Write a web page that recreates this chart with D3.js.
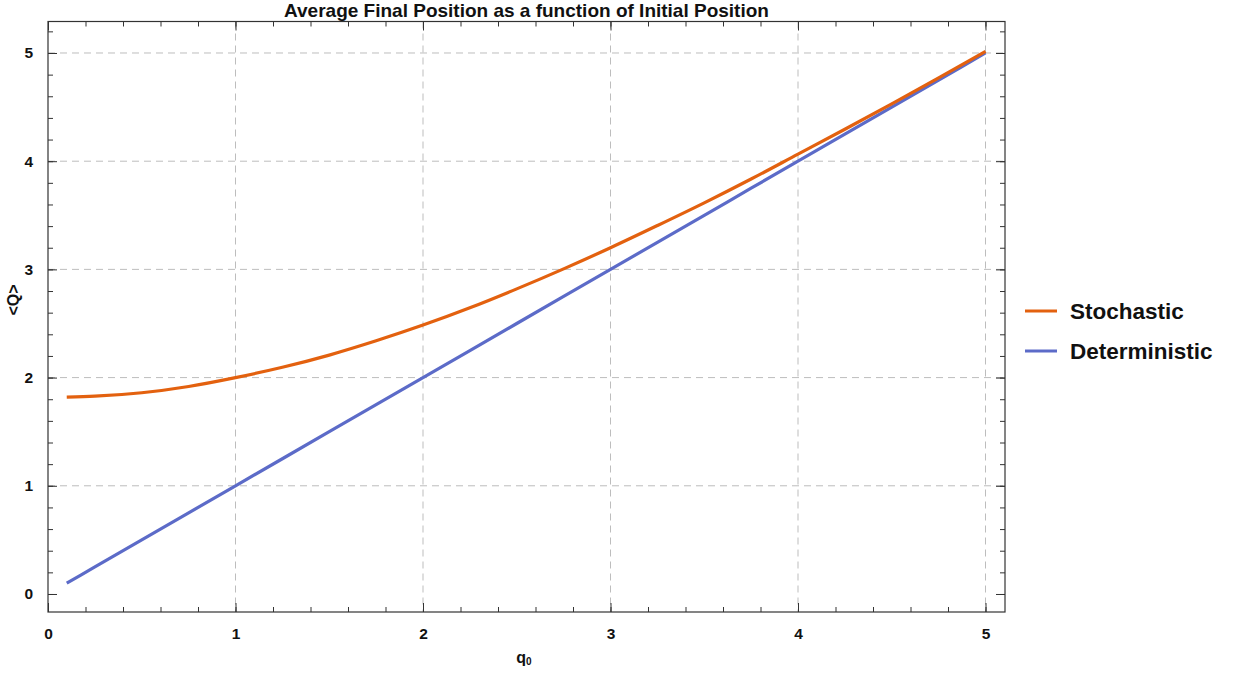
<!DOCTYPE html>
<html>
<head>
<meta charset="utf-8">
<script src="https://cdn.jsdelivr.net/npm/d3@7"></script>
<style>
  html, body { margin: 0; padding: 0; background: #fff; }
  svg { display: block; font-family: "Liberation Sans", Arial, sans-serif; }
</style>
</head>
<body>
<svg id="chart" width="1237" height="673"></svg>
<script>
// ---- data ----
const title = "Average Final Position as a function of Initial Position";
const seriesNames = ["Stochastic", "Deterministic"];
const q0Values = [0.1, 0.25, 0.5, 0.75, 1.0, 1.25, 1.5, 1.75, 2.0, 2.25, 2.5, 2.75, 3.0, 3.25, 3.5, 3.75, 4.0, 4.25, 4.5, 4.75, 5.0];
const stochasticValues = [1.82, 1.828, 1.86, 1.918, 2.0, 2.095, 2.208, 2.34, 2.485, 2.645, 2.82, 3.005, 3.2, 3.405, 3.615, 3.835, 4.065, 4.295, 4.53, 4.77, 5.015];
const deterministicValues = [0.1, 0.25, 0.5, 0.75, 1.0, 1.25, 1.5, 1.75, 2.0, 2.25, 2.5, 2.75, 3.0, 3.25, 3.5, 3.75, 4.0, 4.25, 4.5, 4.75, 5.0];
const xTickLabels = [0, 1, 2, 3, 4, 5];
const yTickLabels = [0, 1, 2, 3, 4, 5];

// ---- layout ----
const svg = d3.select("#chart");
const pL = 48, pR = 1005, pT = 21.5, pB = 612;
const x = d3.scaleLinear().domain([0, 5.104]).range([pL, pR]);
const y = d3.scaleLinear().domain([-0.1664, 5.291]).range([pB, pT]);
const colors = ["#e3610f", "#5c6bc8"];

// grid
const grid = svg.append("g");
grid.selectAll("line.gx").data(xTickLabels.filter(d => d > 0)).join("line")
  .attr("x1", d => x(d)).attr("x2", d => x(d)).attr("y1", pT).attr("y2", pB)
  .attr("stroke", "#bdbdbd").attr("stroke-width", 1).attr("stroke-dasharray", "7,5");
grid.selectAll("line.gy").data(yTickLabels.filter(d => d > 0)).join("line")
  .attr("x1", pL).attr("x2", pR).attr("y1", d => y(d)).attr("y2", d => y(d))
  .attr("stroke", "#bdbdbd").attr("stroke-width", 1).attr("stroke-dasharray", "7,5");

// axes via d3 axis generators (ticks drawn inward)
const xMinor = d3.range(0, 5.1, 0.2).map(v => +v.toFixed(1));
const yMinor = d3.range(0, 5.3, 0.2).map(v => +v.toFixed(1));
function styleAxis(g) {
  g.select(".domain").remove();
  g.selectAll(".tick line").attr("stroke", "#333");
  g.selectAll("text").attr("font-weight", "bold").attr("font-size", 15.5).attr("fill", "#111");
}
// bottom
svg.append("g").attr("transform", `translate(0,${pB})`)
  .call(d3.axisBottom(x).tickValues(xMinor).tickSize(-5).tickFormat(""))
  .call(styleAxis);
svg.append("g").attr("transform", `translate(0,${pB})`)
  .call(d3.axisBottom(x).tickValues(xTickLabels).tickSize(-9).tickPadding(16).tickFormat(d3.format("d")))
  .call(styleAxis);
// top
svg.append("g").attr("transform", `translate(0,${pT})`)
  .call(d3.axisTop(x).tickValues(xMinor).tickSize(-5).tickFormat(""))
  .call(styleAxis);
svg.append("g").attr("transform", `translate(0,${pT})`)
  .call(d3.axisTop(x).tickValues(xTickLabels).tickSize(-9).tickFormat(""))
  .call(styleAxis);
// left
svg.append("g").attr("transform", `translate(${pL},0)`)
  .call(d3.axisLeft(y).tickValues(yMinor).tickSize(-5).tickFormat(""))
  .call(styleAxis);
svg.append("g").attr("transform", `translate(${pL},0)`)
  .call(d3.axisLeft(y).tickValues(yTickLabels).tickSize(-9).tickPadding(15).tickFormat(d3.format("d")))
  .call(styleAxis);
// right
svg.append("g").attr("transform", `translate(${pR},0)`)
  .call(d3.axisRight(y).tickValues(yMinor).tickSize(-5).tickFormat(""))
  .call(styleAxis);
svg.append("g").attr("transform", `translate(${pR},0)`)
  .call(d3.axisRight(y).tickValues(yTickLabels).tickSize(-9).tickFormat(""))
  .call(styleAxis);

// frame
svg.append("rect").attr("x", pL).attr("y", pT).attr("width", pR - pL).attr("height", pB - pT)
  .attr("fill", "none").attr("stroke", "#333").attr("stroke-width", 1.2);

// lines
const line = d3.line().x(d => x(d[0])).y(d => y(d[1])).curve(d3.curveMonotoneX);
const series = [stochasticValues, deterministicValues];
// draw deterministic first, stochastic on top
[1, 0].forEach(i => {
  svg.append("path")
    .datum(q0Values.map((q, j) => [q, series[i][j]]))
    .attr("d", line)
    .attr("fill", "none")
    .attr("stroke", colors[i])
    .attr("stroke-width", 3.2)
    .attr("stroke-linecap", "butt");
});

// title
svg.append("text").attr("x", (pL + pR) / 2).attr("y", 17)
  .attr("text-anchor", "middle").attr("font-weight", "bold").attr("font-size", 19).attr("fill", "#111")
  .text(title);

// axis labels
const xl = svg.append("text").attr("x", 524).attr("y", 663)
  .attr("text-anchor", "middle").attr("font-weight", "bold").attr("font-size", 16).attr("fill", "#111");
xl.append("tspan").text("q");
xl.append("tspan").attr("font-size", 10).attr("dy", 2).text("0");

svg.append("text").attr("transform", "translate(19,300) rotate(-90)")
  .attr("text-anchor", "middle").attr("font-weight", "bold").attr("font-size", 16).attr("fill", "#111")
  .text("<Q>");

// legend
const legend = svg.append("g");
seriesNames.forEach((name, i) => {
  const ly = 311 + i * 40;
  legend.append("line").attr("x1", 1025).attr("x2", 1057).attr("y1", ly).attr("y2", ly)
    .attr("stroke", colors[i]).attr("stroke-width", 3);
  legend.append("text").attr("x", 1070).attr("y", ly + 8)
    .attr("font-weight", "bold").attr("font-size", 22.5).attr("fill", "#111").text(name);
});
</script>
</body>
</html>
